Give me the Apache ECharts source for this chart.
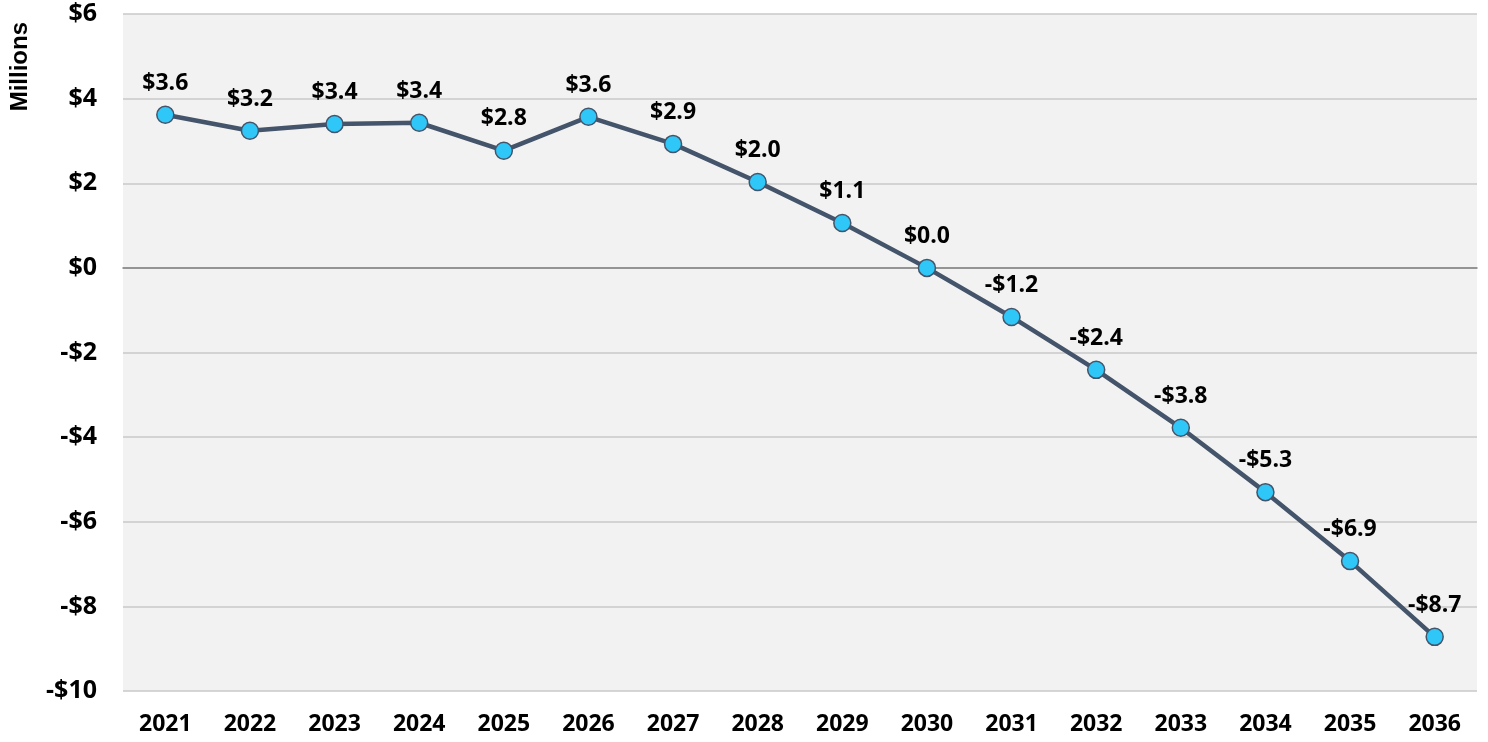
<!DOCTYPE html>
<html>
<head>
<meta charset="utf-8">
<script src="https://cdn.jsdelivr.net/npm/echarts@6/dist/echarts.min.js"></script>
<style>
  html, body { margin: 0; padding: 0; background: #fff; }
  #chart { width: 1488px; height: 742px; }
</style>
</head>
<body>
<div id="chart"></div>
<script>
// years on the x axis
var years = ['2021', '2022', '2023', '2024', '2025', '2026', '2027', '2028',
  '2029', '2030', '2031', '2032', '2033', '2034', '2035', '2036']
// net value, millions of dollars
var netValues = [3.62, 3.24, 3.40, 3.43, 2.77, 3.57, 2.93, 2.03,
  1.06, 0.0, -1.16, -2.41, -3.78, -5.30, -6.93, -8.72]

var fontFamily = '"Open Sans", "Noto Sans", sans-serif'

function money(v) {
  var s = '$' + Math.abs(v).toFixed(0)
  return v < 0 ? '-' + s : s
}

var chart = echarts.init(document.getElementById('chart'))
chart.setOption({
  animation: false,
  grid: {
    left: 123,
    right: 11,
    top: 14,
    bottom: 51,
    show: true,
    backgroundColor: '#f2f2f2',
    borderWidth: 0
  },
  graphic: [{
    type: 'text',
    left: 8,
    top: 22,
    rotation: Math.PI / 2,
    style: {
      text: 'Millions',
      fontFamily: '"Liberation Sans", Arial, sans-serif',
      fontWeight: 'bold',
      fontSize: 24,
      fill: '#000'
    }
  }],
  xAxis: {
    type: 'category',
    data: years,
    boundaryGap: true,
    axisTick: { show: false },
    axisLine: {
      onZero: true,
      lineStyle: { color: '#808080', width: 1.5 }
    },
    axisLabel: {
      color: '#000',
      fontFamily: fontFamily,
      fontWeight: 'bold',
      fontSize: 23,
      margin: 22
    }
  },
  yAxis: {
    type: 'value',
    min: -10,
    max: 6,
    interval: 2,
    axisLine: { show: false },
    axisTick: { show: false },
    splitLine: {
      lineStyle: { color: '#c8c8c8', width: 1.5 }
    },
    axisLabel: {
      color: '#000',
      fontFamily: fontFamily,
      fontWeight: 'bold',
      fontSize: 25,
      margin: 26,
      formatter: money
    }
  },
  series: [{
    type: 'line',
    data: netValues,
    symbol: 'circle',
    symbolSize: 17,
    lineStyle: { color: '#44546a', width: 4.5 },
    itemStyle: {
      color: '#2ec7f8',
      borderColor: '#44546a',
      borderWidth: 1.5
    },
    label: {
      show: true,
      position: 'top',
      distance: 11,
      color: '#000',
      fontFamily: fontFamily,
      fontWeight: 'bold',
      fontSize: 23,
      formatter: function (p) {
        var s = '$' + Math.abs(p.value).toFixed(1)
        return p.value < -0.001 ? '-' + s : s
      }
    }
  }]
})
</script>
</body>
</html>
